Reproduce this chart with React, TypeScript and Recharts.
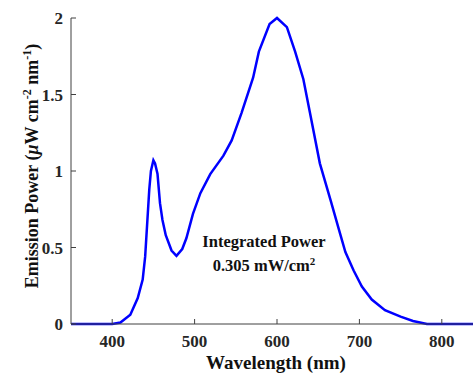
import { LineChart, Line, XAxis, YAxis, Label } from 'recharts';

const wavelengths = [
  350, 400, 410, 422, 431, 437, 440, 445, 447, 450, 452, 455, 458, 461, 465, 472, 478, 485, 490,
  498, 507, 519, 535, 545, 557, 571, 578, 591, 600, 612, 622, 632, 640, 652, 665, 675, 683, 693,
  703, 715, 731, 750, 765, 782, 800, 850,
];
const power = [
  0, 0, 0.01, 0.06, 0.17, 0.29, 0.44, 0.88, 1.0, 1.07, 1.05, 0.98, 0.79, 0.68, 0.58, 0.48, 0.445,
  0.49, 0.56, 0.72, 0.855, 0.98, 1.1, 1.2, 1.38, 1.61, 1.78, 1.96, 2.0, 1.94, 1.78, 1.6, 1.38,
  1.05, 0.81, 0.62, 0.47, 0.35, 0.245, 0.16, 0.09, 0.048, 0.02, 0, 0, 0,
];
const xTicks = [400, 500, 600, 700, 800];
const yTicks = [0, 0.5, 1, 1.5, 2];

const data = wavelengths.map((w, i) => ({ w, p: power[i] }));

const FONT = '"Liberation Serif", "Times New Roman", serif';
const AXIS = '#404040';

function XTick({ x, y, payload }: any) {
  return (
    <g>
      <line x1={x} y1={y} x2={x} y2={y - 5} stroke={AXIS} strokeWidth={1} />
      <text x={x} y={y + 23} textAnchor="middle" fontFamily={FONT} fontWeight="bold" fontSize={17} fill="#262626">
        {payload.value}
      </text>
    </g>
  );
}

function YTick({ x, y, payload }: any) {
  return (
    <g>
      <line x1={x} y1={y} x2={x + 5} y2={y} stroke={AXIS} strokeWidth={1} />
      <text x={x - 8} y={y + 6} textAnchor="end" fontFamily={FONT} fontWeight="bold" fontSize={17} fill="#262626">
        {payload.value}
      </text>
    </g>
  );
}

export default function App() {
  return (
    <div style={{ position: 'absolute', left: 0, top: 0, width: 473, height: 374, overflow: 'hidden', background: '#fff' }}>
      <LineChart width={483} height={374} data={data} margin={{ top: 18, right: 0, bottom: 0, left: 0 }}>
        <XAxis
          dataKey="w"
          type="number"
          domain={[350, 850]}
          ticks={xTicks}
          height={50}
          tickSize={0}
          tickMargin={0}
          tick={<XTick />}
          axisLine={{ stroke: AXIS, strokeWidth: 1 }}
        >
          <Label
            content={() => (
              <text x={276} y={369} textAnchor="middle" fontFamily={FONT} fontWeight="bold" fontSize={19} fill="#111">
                Wavelength (nm)
              </text>
            )}
          />
        </XAxis>
        <YAxis
          type="number"
          domain={[0, 2]}
          ticks={yTicks}
          width={71}
          tickSize={0}
          tickMargin={0}
          tick={<YTick />}
          axisLine={{ stroke: AXIS, strokeWidth: 1 }}
        >
          <Label
            content={() => (
              <text
                transform="translate(38,166) rotate(-90)"
                x={0}
                y={0}
                textAnchor="middle"
                fontFamily={FONT}
                fontWeight="bold"
                fontSize={18}
                fill="#111"
              >
                Emission Power (
                <tspan fontStyle="italic">μ</tspan>W cm
                <tspan dy={-7} fontSize={12}>-2</tspan>
                <tspan dy={7}> nm</tspan>
                <tspan dy={-7} fontSize={12}>-1</tspan>
                <tspan dy={7}>)</tspan>
              </text>
            )}
          />
        </YAxis>
        <Line
          dataKey="p"
          type="linear"
          stroke="#0000ff"
          strokeWidth={2.5}
          dot={false}
          isAnimationActive={false}
        />
      </LineChart>
      <div
        style={{
          position: 'absolute',
          left: 184,
          top: 230,
          width: 160,
          textAlign: 'center',
          fontFamily: FONT,
          fontWeight: 'bold',
          fontSize: 16.5,
          lineHeight: '24px',
          color: '#111',
        }}
      >
        <div>Integrated Power</div>
        <div>
          0.305 mW/cm<sup style={{ fontSize: 11, verticalAlign: 'top', lineHeight: '14px' }}>2</sup>
        </div>
      </div>
    </div>
  );
}
